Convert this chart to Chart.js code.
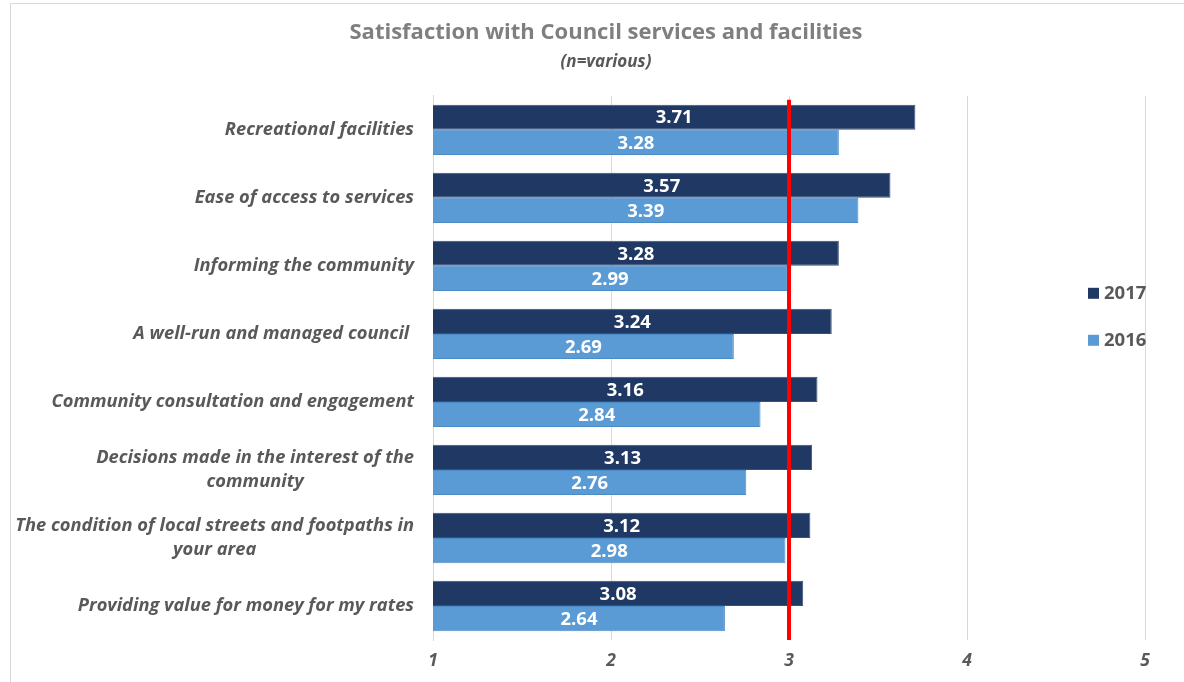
<!DOCTYPE html>
<html>
<head>
<meta charset="utf-8">
<title>Satisfaction with Council services and facilities</title>
<script src="https://cdn.jsdelivr.net/npm/chart.js@4/dist/chart.umd.min.js"></script>
<style>
  html, body { margin: 0; padding: 0; background: #ffffff; }
  #wrap { width: 1184px; height: 682px; }
</style>
</head>
<body>
<div id="wrap"><canvas id="satisfaction"></canvas></div>
<script>
const categories = [
    "Recreational facilities",
    "Ease of access to services",
    "Informing the community",
    "A well-run and managed council ",
    "Community consultation and engagement",
    ["Decisions made in the interest of the", "community"],
    ["The condition of local streets and footpaths in", "your area"],
    "Providing value for money for my rates"
];
const scores2017 = [3.71, 3.57, 3.28, 3.24, 3.16, 3.13, 3.12, 3.08];
const scores2016 = [3.28, 3.39, 2.99, 2.69, 2.84, 2.76, 2.98, 2.64];
const seriesNames = ["2017", "2016"];
const seriesColors = ["#203864", "#5b9bd5"];
const seriesBorders = ["#3a5078", "#4a8cc8"];
const scaleMin = 1, scaleMax = 5;
const benchmark = 3;

const FONT = "'Open Sans', 'DejaVu Sans', sans-serif";
const GREY = "#595959";

// light frame round the whole chart
const framePlugin = {
    id: "frame",
    beforeDraw(chart) {
        const ctx = chart.ctx;
        ctx.save();
        ctx.strokeStyle = "#d9d9d9";
        ctx.lineWidth = 1;
        ctx.strokeRect(10.5, 3.5, chart.width + 20, chart.height + 20);
        ctx.restore();
    }
};

// category names: right aligned block, extra lines centred under the first
const categoryLabels = {
    id: "categoryLabels",
    afterDraw(chart) {
        const ctx = chart.ctx;
        const yScale = chart.scales.y;
        const right = chart.chartArea.left - 19;
        const lineH = 24;
        ctx.save();
        ctx.font = "italic bold 18.3px " + FONT;
        ctx.fillStyle = GREY;
        ctx.textAlign = "center";
        ctx.textBaseline = "middle";
        categories.forEach((label, i) => {
            const lines = Array.isArray(label) ? label : [label];
            const w = Math.max(...lines.map(l => ctx.measureText(l).width));
            const cx = right - w / 2;
            const cy = yScale.getPixelForTick(i);
            lines.forEach((l, j) => {
                ctx.fillText(l, cx, cy + (j - (lines.length - 1) / 2) * lineH);
            });
        });
        ctx.restore();
    }
};

// red benchmark line and white value labels inside the bars
const overlays = {
    id: "overlays",
    afterDatasetsDraw(chart) {
        const ctx = chart.ctx;
        const area = chart.chartArea;
        const xScale = chart.scales.x;
        ctx.save();
        const bx = xScale.getPixelForValue(benchmark);
        ctx.strokeStyle = "#ff0000";
        ctx.lineWidth = 4;
        ctx.beginPath();
        ctx.moveTo(bx, area.top + 4);
        ctx.lineTo(bx, area.bottom);
        ctx.stroke();

        ctx.font = "bold 18.5px " + FONT;
        ctx.fillStyle = "#ffffff";
        ctx.textAlign = "center";
        ctx.textBaseline = "middle";
        chart.data.datasets.forEach((ds, d) => {
            chart.getDatasetMeta(d).data.forEach((bar, i) => {
                const start = Math.max(bar.base, area.left);
                ctx.fillText(ds.data[i].toFixed(2), (start + bar.x) / 2, bar.y + 1);
            });
        });
        ctx.restore();
    }
};

// legend sits inside the plot, near the right edge
const sideLegend = {
    id: "sideLegend",
    afterDraw(chart) {
        const ctx = chart.ctx;
        const area = chart.chartArea;
        const x = area.right - 57;
        ctx.save();
        ctx.font = "bold 18.5px " + FONT;
        ctx.textBaseline = "middle";
        ctx.textAlign = "left";
        seriesNames.forEach((name, i) => {
            const y = area.top + 197 + i * 47;
            ctx.fillStyle = seriesColors[i];
            ctx.fillRect(x, y - 5, 11, 11);
            ctx.fillStyle = GREY;
            ctx.fillText(name, x + 16, y + 1);
        });
        ctx.restore();
    }
};

new Chart("satisfaction", {
    type: "bar",
    data: {
        labels: categories,
        datasets: [{
            label: seriesNames[0],
            data: scores2017,
            backgroundColor: seriesColors[0],
            borderColor: seriesBorders[0],
            borderWidth: 1
        }, {
            label: seriesNames[1],
            data: scores2016,
            backgroundColor: seriesColors[1],
            borderColor: seriesBorders[1],
            borderWidth: 1
        }]
    },
    options: {
        indexAxis: "y",
        responsive: true,
        maintainAspectRatio: false,
        animation: false,
        datasets: {
            bar: { categoryPercentage: 0.74, barPercentage: 1 }
        },
        layout: {
            padding: { left: 67, right: 39, top: 0, bottom: 12 }
        },
        scales: {
            x: {
                min: scaleMin,
                max: scaleMax,
                ticks: {
                    stepSize: 1,
                    padding: 11,
                    color: GREY,
                    font: { family: FONT, size: 17.5, weight: "bold", style: "italic" }
                },
                grid: { color: "#d9d9d9", drawTicks: false },
                border: { display: false },
                afterFit(scale) { scale.height = 30; }
            },
            y: {
                ticks: { display: false },
                grid: { display: false },
                border: { display: true, color: "#d9d9d9" },
                afterFit(scale) { scale.width = 366; }
            }
        },
        plugins: {
            legend: { display: false },
            tooltip: { enabled: false },
            title: {
                display: true,
                text: "Satisfaction with Council services and facilities",
                color: "#7f7f7f",
                font: { family: FONT, size: 22, weight: "bold" },
                padding: { top: 20, bottom: 3 }
            },
            subtitle: {
                display: true,
                text: "(n=various)",
                color: GREY,
                font: { family: FONT, size: 17, style: "italic", weight: "bold" },
                padding: { top: 3, bottom: 23 }
            }
        }
    },
    plugins: [framePlugin, categoryLabels, overlays, sideLegend]
});
</script>
</body>
</html>
